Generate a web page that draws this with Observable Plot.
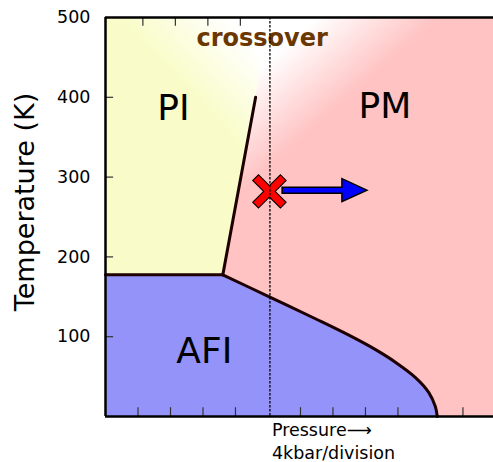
<!DOCTYPE html>
<html><head><meta charset="utf-8">
<script src="https://cdn.jsdelivr.net/npm/d3@7"></script>
<script src="https://cdn.jsdelivr.net/npm/@observablehq/plot@0.6"></script>
<style>body{margin:0;background:#fff}</style>
</head><body><div id="chart"></div>
<script>
// ---- data (pressure in divisions of 4 kbar, temperature in K) ----
const xMax = 11.94;
const yTicks = [100, 200, 300, 400, 500];
const bottomTicks = [1, 2, 3, 4, 6, 7, 8, 9, 11];
const topTicks = [1.15, 2.15, 3.15, 4.15];
// PI / PM boundary (first order line), then its extension to the top edge
const piEdgeP = [3.61, 4.62, 5.08];
const piEdgeT = [177.5, 400, 500];
const piLineP = [3.61, 4.62];
const piLineT = [177.5, 400];
// PI / AFI boundary (horizontal)
const flatP = [0, 3.61];
const flatT = [177.5, 177.5];
// AFI / PM boundary
const afiP = [3.61, 5.025, 6.46, 7.49, 8.31, 8.92, 9.54, 9.95, 10.15, 10.21];
const afiT = [177.5, 150.3, 122.5, 101.9, 83.8, 68.1, 48.8, 30, 12.5, 0];
// crossover pressure (dashed line) and sample marker
const crossoverP = 5.06;
const markerP = 5.06, markerT = 281.5;
const arrowP = [5.45, 8.06], arrowT = 283;
// region labels
const regionNames = ["PI", "PM", "AFI"];
const regionP = [2.09, 8.6, 3.04];
const regionT = [386, 388, 82];
const crossoverLabel = "crossover";
const crossoverLabelP = 4.82, crossoverLabelT = 474;
const yLabel = "Temperature (K)";
const yLabelP = -2.48, yLabelT = 268.8;
const xLabel = "Pressure\u27F6\n4kbar/division";

const piEdge = piEdgeP.map((p, i) => ({p, t: piEdgeT[i]}));
const piLine = piLineP.map((p, i) => ({p, t: piLineT[i]}));
const flat = flatP.map((p, i) => ({p, t: flatT[i]}));
const afi = afiP.map((p, i) => ({p, t: afiT[i]}));
const regions = regionNames.map((name, i) => ({name, p: regionP[i], t: regionT[i]}));

const yellow = "#f9fcc8", pink = "#ffc3c3", blue = "#9393f9", edge = "#1e0000";

function getScales(args) {
  return args.find(a => a && typeof a.x === "function" && typeof a.y === "function");
}

function gradients(...args) {
  const s = getScales(args);
  const defs = d3.create("svg:defs");
  const pm = defs.append("linearGradient").attr("id", "pmGrad").attr("gradientUnits", "userSpaceOnUse")
    .attr("x1", s.x(6.0)).attr("y1", s.y(482)).attr("x2", s.x(7.63)).attr("y2", s.y(406));
  pm.append("stop").attr("offset", 0).attr("stop-color", "#ffffff");
  pm.append("stop").attr("offset", 1).attr("stop-color", pink);
  const pi = defs.append("linearGradient").attr("id", "piGrad").attr("gradientUnits", "userSpaceOnUse")
    .attr("x1", s.x(4.7)).attr("y1", s.y(460)).attr("x2", s.x(2.9)).attr("y2", s.y(392));
  pi.append("stop").attr("offset", 0).attr("stop-color", "#ffffff");
  pi.append("stop").attr("offset", 1).attr("stop-color", yellow);
  return defs.node();
}

function markers(...args) {
  const s = getScales(args);
  const g = d3.create("svg:g");
  // blue arrow
  const x1 = s.x(arrowP[0]), x2 = s.x(arrowP[1]), ay = s.y(arrowT);
  const sh = 3, hh = 11.5, hl = 25;
  g.append("path")
    .attr("d", `M${x1},${ay - sh}L${x2 - hl},${ay - sh}L${x2 - hl},${ay - hh}L${x2},${ay}L${x2 - hl},${ay + hh}L${x2 - hl},${ay + sh}L${x1},${ay + sh}Z`)
    .attr("fill", "#0000ff").attr("stroke", "#000").attr("stroke-width", 1.5).attr("stroke-linejoin", "miter");
  // red cross
  const cx = s.x(markerP), cy = s.y(markerT);
  const L = 38, w = 7;
  for (const layer of ["outline", "fill"]) {
    for (const a of [45, -45]) {
      g.append("rect")
        .attr("x", cx - L / 2).attr("y", cy - w / 2).attr("width", L).attr("height", w)
        .attr("transform", `rotate(${a},${cx},${cy})`)
        .attr("fill", layer === "fill" ? "#ff0000" : "none")
        .attr("stroke", layer === "outline" ? "#000" : "none")
        .attr("stroke-width", 2.2);
    }
  }
  return g.node();
}

const chart = Plot.plot({
  width: 493,
  height: 462,
  marginLeft: 105,
  marginRight: 0,
  marginTop: 17,
  marginBottom: 46,
  x: {domain: [0, xMax], axis: null},
  y: {domain: [0, 500], axis: null},
  style: {fontFamily: "DejaVu Sans", fontSize: "17.5px", background: "#fff", overflow: "visible"},
  marks: [
    gradients,
    Plot.frame({fill: "url(#pmGrad)", stroke: "none"}),
    Plot.areaX(piEdge, {y: "t", x1: 0, x2: "p", fill: "url(#piGrad)"}),
    Plot.areaX(afi, {y: "t", x1: 0, x2: "p", fill: blue, curve: "catmull-rom"}),
    Plot.line(afi, {x: "p", y: "t", stroke: edge, strokeWidth: 3, curve: "catmull-rom"}),
    Plot.line(flat, {x: "p", y: "t", stroke: edge, strokeWidth: 3}),
    Plot.line(piLine, {x: "p", y: "t", stroke: edge, strokeWidth: 3}),
    Plot.text(regions, {x: "p", y: "t", text: "name", fontSize: 36, fill: "#000"}),
    Plot.text([crossoverLabel], {x: crossoverLabelP, y: crossoverLabelT, fontSize: 24, fontWeight: "bold", fill: "#6b3700"}),
    markers,
    Plot.ruleX([crossoverP], {stroke: "#000", strokeWidth: 1.3, strokeDasharray: "2.5,1.5"}),
    Plot.ruleY(yTicks.filter(d => d < 500), {x1: 0, x2: 0.25, stroke: "#333", strokeWidth: 1.2}),
    Plot.ruleX(bottomTicks, {y1: 0, y2: 11, stroke: "#333", strokeWidth: 1.2}),
    Plot.ruleX(topTicks, {y1: 489, y2: 500, stroke: "#333", strokeWidth: 1.2}),
    Plot.ruleX([0], {stroke: "#000", strokeWidth: 2.5}),
    Plot.ruleY([0, 500], {stroke: "#000", strokeWidth: 2.5}),
    Plot.text(yTicks, {x: 0, y: d => d, text: d => String(d), textAnchor: "end", dx: -15, fontSize: 17.5, fill: "#000"}),
    Plot.text([yLabel], {x: yLabelP, y: yLabelT, rotate: -90, fontSize: 27, fill: "#000"}),
    Plot.text([xLabel], {x: crossoverP, y: 0, dx: 2, dy: 4, textAnchor: "start", lineAnchor: "top", lineHeight: 1.28, fontSize: 17.5, fill: "#000"})
  ]
});
document.getElementById("chart").appendChild(chart);
</script></body></html>
